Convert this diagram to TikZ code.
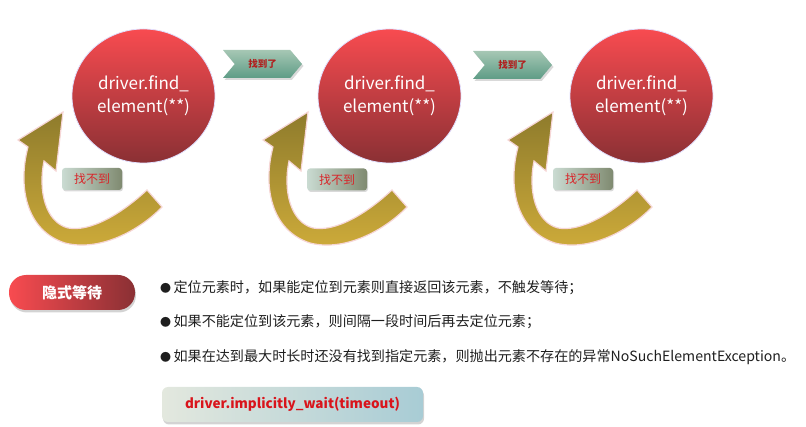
\documentclass[tikz,border=0pt]{standalone}
\usepackage{fontspec}
\setmainfont{Noto Sans CJK SC}
\usetikzlibrary{shapes.geometric,shapes.symbols,shadows}
\definecolor{redtop}{HTML}{F84B50}
\definecolor{redmid}{HTML}{D43E44}
\definecolor{redbot}{HTML}{8A3034}
\definecolor{chevtop}{HTML}{A6C7B4}
\definecolor{chevbot}{HTML}{5E9C86}
\definecolor{chevtext}{HTML}{B0201F}
\definecolor{lblleft}{HTML}{CADBD2}
\definecolor{lblright}{HTML}{7F8A70}
\definecolor{lbltext}{HTML}{D8262A}
\definecolor{golddark}{HTML}{8E7B2C}
\definecolor{goldlight}{HTML}{CFAC3A}
\definecolor{glow}{HTML}{F6D6D6}
\definecolor{codeleft}{HTML}{E3E8DE}
\definecolor{coderight}{HTML}{A8CCD5}
\definecolor{codetext}{HTML}{D9141B}
\definecolor{bodytext}{HTML}{1E1E1E}
\begin{document}
\begin{tikzpicture}[x=1pt,y=-1pt,
  bubble/.style={ellipse, minimum width=143pt, minimum height=134pt, inner sep=0pt,
    top color=redtop, middle color=redmid, bottom color=redbot, draw=blue!12, line width=0.8pt,
    text=white, align=center, font=\fontsize{17}{23}\selectfont},
  chev/.style={signal, signal to=east, signal from=west, signal pointer angle=100,
    minimum width=79pt, minimum height=28pt, inner sep=0pt,
    top color=chevtop, bottom color=chevbot,
    drop shadow={opacity=0.3, shadow xshift=1.5pt, shadow yshift=-2pt},
    text=chevtext, font=\bfseries\fontsize{9.5}{10}\selectfont},
  lbl/.style={rectangle, rounded corners=3pt, minimum width=60pt, minimum height=22pt, inner sep=0pt,
    left color=lblleft, right color=lblright,
    drop shadow={opacity=0.3, shadow xshift=1pt, shadow yshift=-1.5pt},
    text=lbltext, font=\fontsize{12}{13}\selectfont},
  goldarr/.style={top color=golddark, bottom color=goldlight, draw=glow, line width=1.2pt},
  pill/.style={rectangle, rounded corners=17pt, minimum width=126pt, minimum height=35pt, inner sep=0pt,
    left color=redtop, right color=redbot,
    drop shadow={opacity=0.35, shadow xshift=1pt, shadow yshift=-2.5pt},
    text=white, font=\bfseries\fontsize{15}{16}\selectfont},
  bullet/.style={anchor=west, inner sep=0pt, text=bodytext, font=\fontsize{14.1}{16}\selectfont},
  codebox/.style={rectangle, rounded corners=6pt, minimum width=261pt, minimum height=35pt, inner sep=0pt,
    left color=codeleft, right color=coderight,
    drop shadow={opacity=0.35, shadow xshift=1pt, shadow yshift=-2.5pt},
    text=codetext, font=\bfseries\fontsize{13.5}{15}\selectfont}
]
\useasboundingbox (0,0) rectangle (806,427);

% curved gold arrows
\foreach \s in {0,245,490}{
  \begin{scope}[xshift=\s pt]
  \path[goldarr] (162,207) -- (147,190)
    .. controls (120,215) and (90,232) .. (68,228)
    .. controls (45,222) and (38,190) .. (44,161)
    -- (56,171) -- (63,112) -- (18,140) -- (28,147)
    .. controls (18,185) and (25,230) .. (65,243)
    .. controls (100,252) and (140,230) .. (162,207) -- cycle;
  \end{scope}
}

% circles
\node[bubble] (c1) at (143.5,96) {driver.find\_\\element(**)};
\node[bubble] (c2) at (389.5,96) {driver.find\_\\element(**)};
\node[bubble] (c3) at (641.5,96) {driver.find\_\\element(**)};

% chevrons
\node[chev] (f1) at (262.5,64) {找到了};
\node[chev] (f2) at (512.5,65) {找到了};

% labels
\node[lbl] (n1) at (92,179) {找不到};
\node[lbl] (n2) at (337,179.5) {找不到};
\node[lbl] (n3) at (583,179) {找不到};

% bottom part
\node[pill] (p) at (72,292.5) {隐式等待};
\node[bullet] (b1) at (160,288) {{\fontsize{11}{12}\selectfont●}\,定位元素时，如果能定位到元素则直接返回该元素，不触发等待；};
\node[bullet] (b2) at (160,322) {{\fontsize{11}{12}\selectfont●}\,如果不能定位到该元素，则间隔一段时间后再去定位元素；};
\node[bullet] (b3) at (160,357) {{\fontsize{11}{12}\selectfont●}\,如果在达到最大时长时还没有找到指定元素，则抛出元素不存在的异常NoSuchElementException。};
\node[codebox] (code) at (292.5,404.5) {driver.implicitly\_wait(timeout)};
\end{tikzpicture}
\end{document}
